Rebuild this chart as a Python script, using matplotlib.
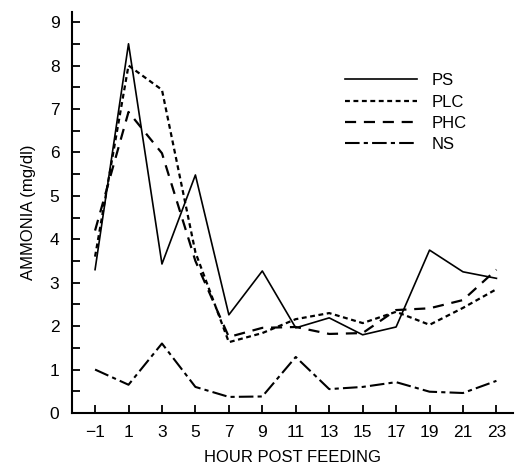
import numpy as np
import matplotlib
matplotlib.use("Agg")
import matplotlib.pyplot as plt

plt.rcParams['font.family'] = ['Liberation Sans', 'DejaVu Sans']

hours = [-1, 1, 3, 5, 7, 9, 11, 13, 15, 17, 19, 21, 23]
ps  = [3.3, 8.5, 3.43, 5.48, 2.26, 3.27, 1.96, 2.19, 1.8, 1.98, 3.75, 3.25, 3.1]
plc = [3.6, 8.0, 7.44, 3.7, 1.63, 1.84, 2.16, 2.3, 2.07, 2.33, 2.03, 2.42, 2.85]
phc = [4.2, 6.93, 5.98, 3.5, 1.75, 1.96, 1.98, 1.82, 1.84, 2.37, 2.41, 2.6, 3.3]
ns  = [1.0, 0.65, 1.6, 0.6, 0.37, 0.38, 1.29, 0.55, 0.6, 0.71, 0.49, 0.46, 0.74]

fig = plt.figure(figsize=(5.16, 4.70), dpi=100)
ax = fig.add_axes([0.1395, 0.1213, 0.855, 0.853])

ax.plot(hours, ps, color='black', lw=1.2, ls='-', label='PS')
ax.plot(hours, plc, color='black', lw=1.6, ls=(0, (2.2, 1.6)), label='PLC')
ax.plot(hours, phc, color='black', lw=1.6, ls=(0, (5, 3.5)), label='PHC')
ax.plot(hours, ns, color='black', lw=1.5, ls=(0, (7, 2, 2, 2)), label='NS')

ax.set_xlim(-2.38, 24.0)
ax.set_ylim(0, 9.23)
ax.set_xticks(hours)
ax.set_xticklabels(['\u22121'] + [str(h) for h in hours[1:]])
ax.set_yticks(range(0, 10))
ax.set_yticks(np.arange(0.5, 9, 1.0), minor=True)
ax.tick_params(direction='in', length=6, width=1.3, labelsize=12.5)
ax.tick_params(which='minor', direction='in', length=6, width=1.3)
ax.tick_params(axis='x', pad=9)
ax.tick_params(axis='y', pad=9)

for s in ['top', 'right']:
    ax.spines[s].set_visible(False)
for s in ['left', 'bottom']:
    ax.spines[s].set_linewidth(1.5)

ax.set_xlabel('HOUR POST FEEDING', fontsize=12, labelpad=7)
ax.set_ylabel('AMMONIA (mg/dl)', fontsize=12, labelpad=10)

ax.legend(loc='upper left', bbox_to_anchor=(0.585, 0.885), frameon=False,
          fontsize=12, handlelength=4.3, handletextpad=0.9, labelspacing=0.38)

fig.savefig('out.png', dpi=100)
